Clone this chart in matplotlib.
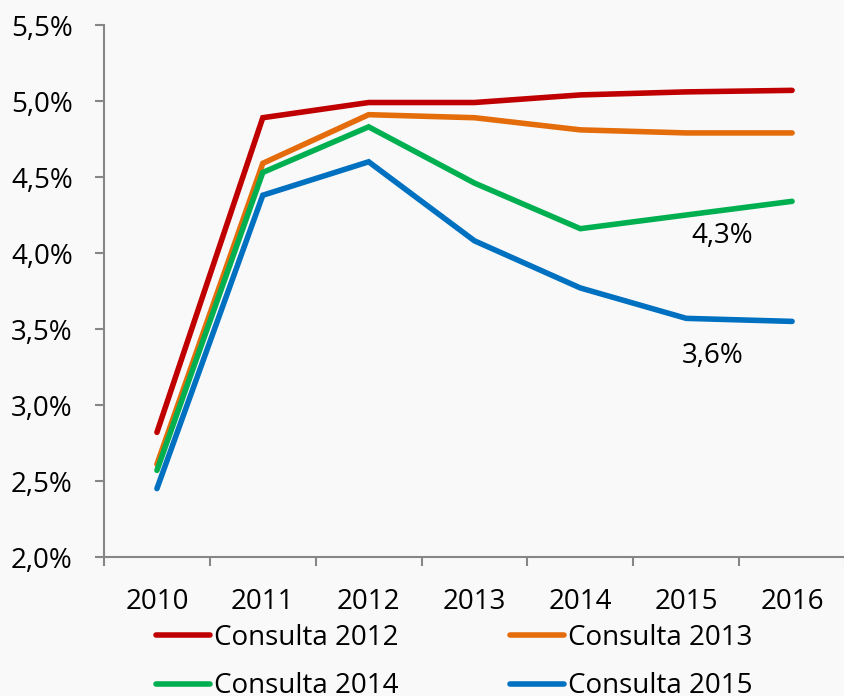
import matplotlib
matplotlib.use('Agg')
import matplotlib.pyplot as plt
from matplotlib.ticker import FixedLocator, FuncFormatter

plt.rcParams['font.family'] = ['Open Sans', 'DejaVu Sans']

years = ['2010', '2011', '2012', '2013', '2014', '2015', '2016']
consulta_2012 = [2.82, 4.89, 4.99, 4.99, 5.04, 5.06, 5.07]
consulta_2013 = [2.61, 4.59, 4.91, 4.89, 4.81, 4.79, 4.79]
consulta_2014 = [2.57, 4.53, 4.83, 4.46, 4.16, 4.25, 4.34]
consulta_2015 = [2.45, 4.38, 4.60, 4.08, 3.77, 3.57, 3.55]
series_labels = ['Consulta 2012', 'Consulta 2013', 'Consulta 2014', 'Consulta 2015']
colors = ['#C00000', '#E46C0A', '#00B050', '#0070C0']
y_ticks = [2.0, 2.5, 3.0, 3.5, 4.0, 4.5, 5.0, 5.5]

bg = '#f9f9f9'
axis_color = '#868686'
fs = 20

fig = plt.figure(figsize=(8.44, 6.96), dpi=100, facecolor=bg)
ax = fig.add_axes([104 / 844, 1 - 557 / 696, 741 / 844, 532 / 696])
ax.set_facecolor(bg)

x = list(range(len(years)))
lines = []
for values, label, color in zip([consulta_2012, consulta_2013, consulta_2014, consulta_2015],
                                series_labels, colors):
    line, = ax.plot(x, values, color=color, linewidth=4, label=label,
                    solid_capstyle='round', solid_joinstyle='miter')
    lines.append(line)

# etiquetas de los valores finales
ax.text(5.34, 4.11, '4,3%', fontsize=fs, ha='center', va='center')
ax.text(5.25, 3.32, '3,6%', fontsize=fs, ha='center', va='center')

ax.set_xlim(-0.5, len(years) - 0.5)
ax.set_ylim(2.0, 5.5)

for side in ['top', 'right']:
    ax.spines[side].set_visible(False)
for side in ['left', 'bottom']:
    ax.spines[side].set_color(axis_color)
    ax.spines[side].set_linewidth(1.5)

ax.yaxis.set_major_locator(FixedLocator(y_ticks))
ax.yaxis.set_major_formatter(FuncFormatter(lambda v, pos: ('%.1f%%' % v).replace('.', ',')))
ax.tick_params(axis='y', which='major', length=6.5, width=1.5, color=axis_color,
               pad=16, labelsize=fs, direction='out')

ax.set_xticks(x)
ax.set_xticklabels(years)
ax.xaxis.set_minor_locator(FixedLocator([i - 0.5 for i in range(len(years) + 1)]))
ax.tick_params(axis='x', which='major', length=0, pad=22, labelsize=fs)
ax.tick_params(axis='x', which='minor', length=6.5, width=1.5, color=axis_color, direction='out')

# leyenda por filas: 2012, 2013 / 2014, 2015
order = [0, 2, 1, 3]
fig.legend([lines[i] for i in order], [series_labels[i] for i in order],
           loc='upper left', bbox_to_anchor=(156 / 844, 1 - 624 / 696), ncol=2,
           frameon=False, fontsize=fs, handlelength=1.95, handletextpad=0.15,
           columnspacing=4.0, labelspacing=0.73, borderpad=0, borderaxespad=0)

fig.savefig('out.png', dpi=100, facecolor=bg)
